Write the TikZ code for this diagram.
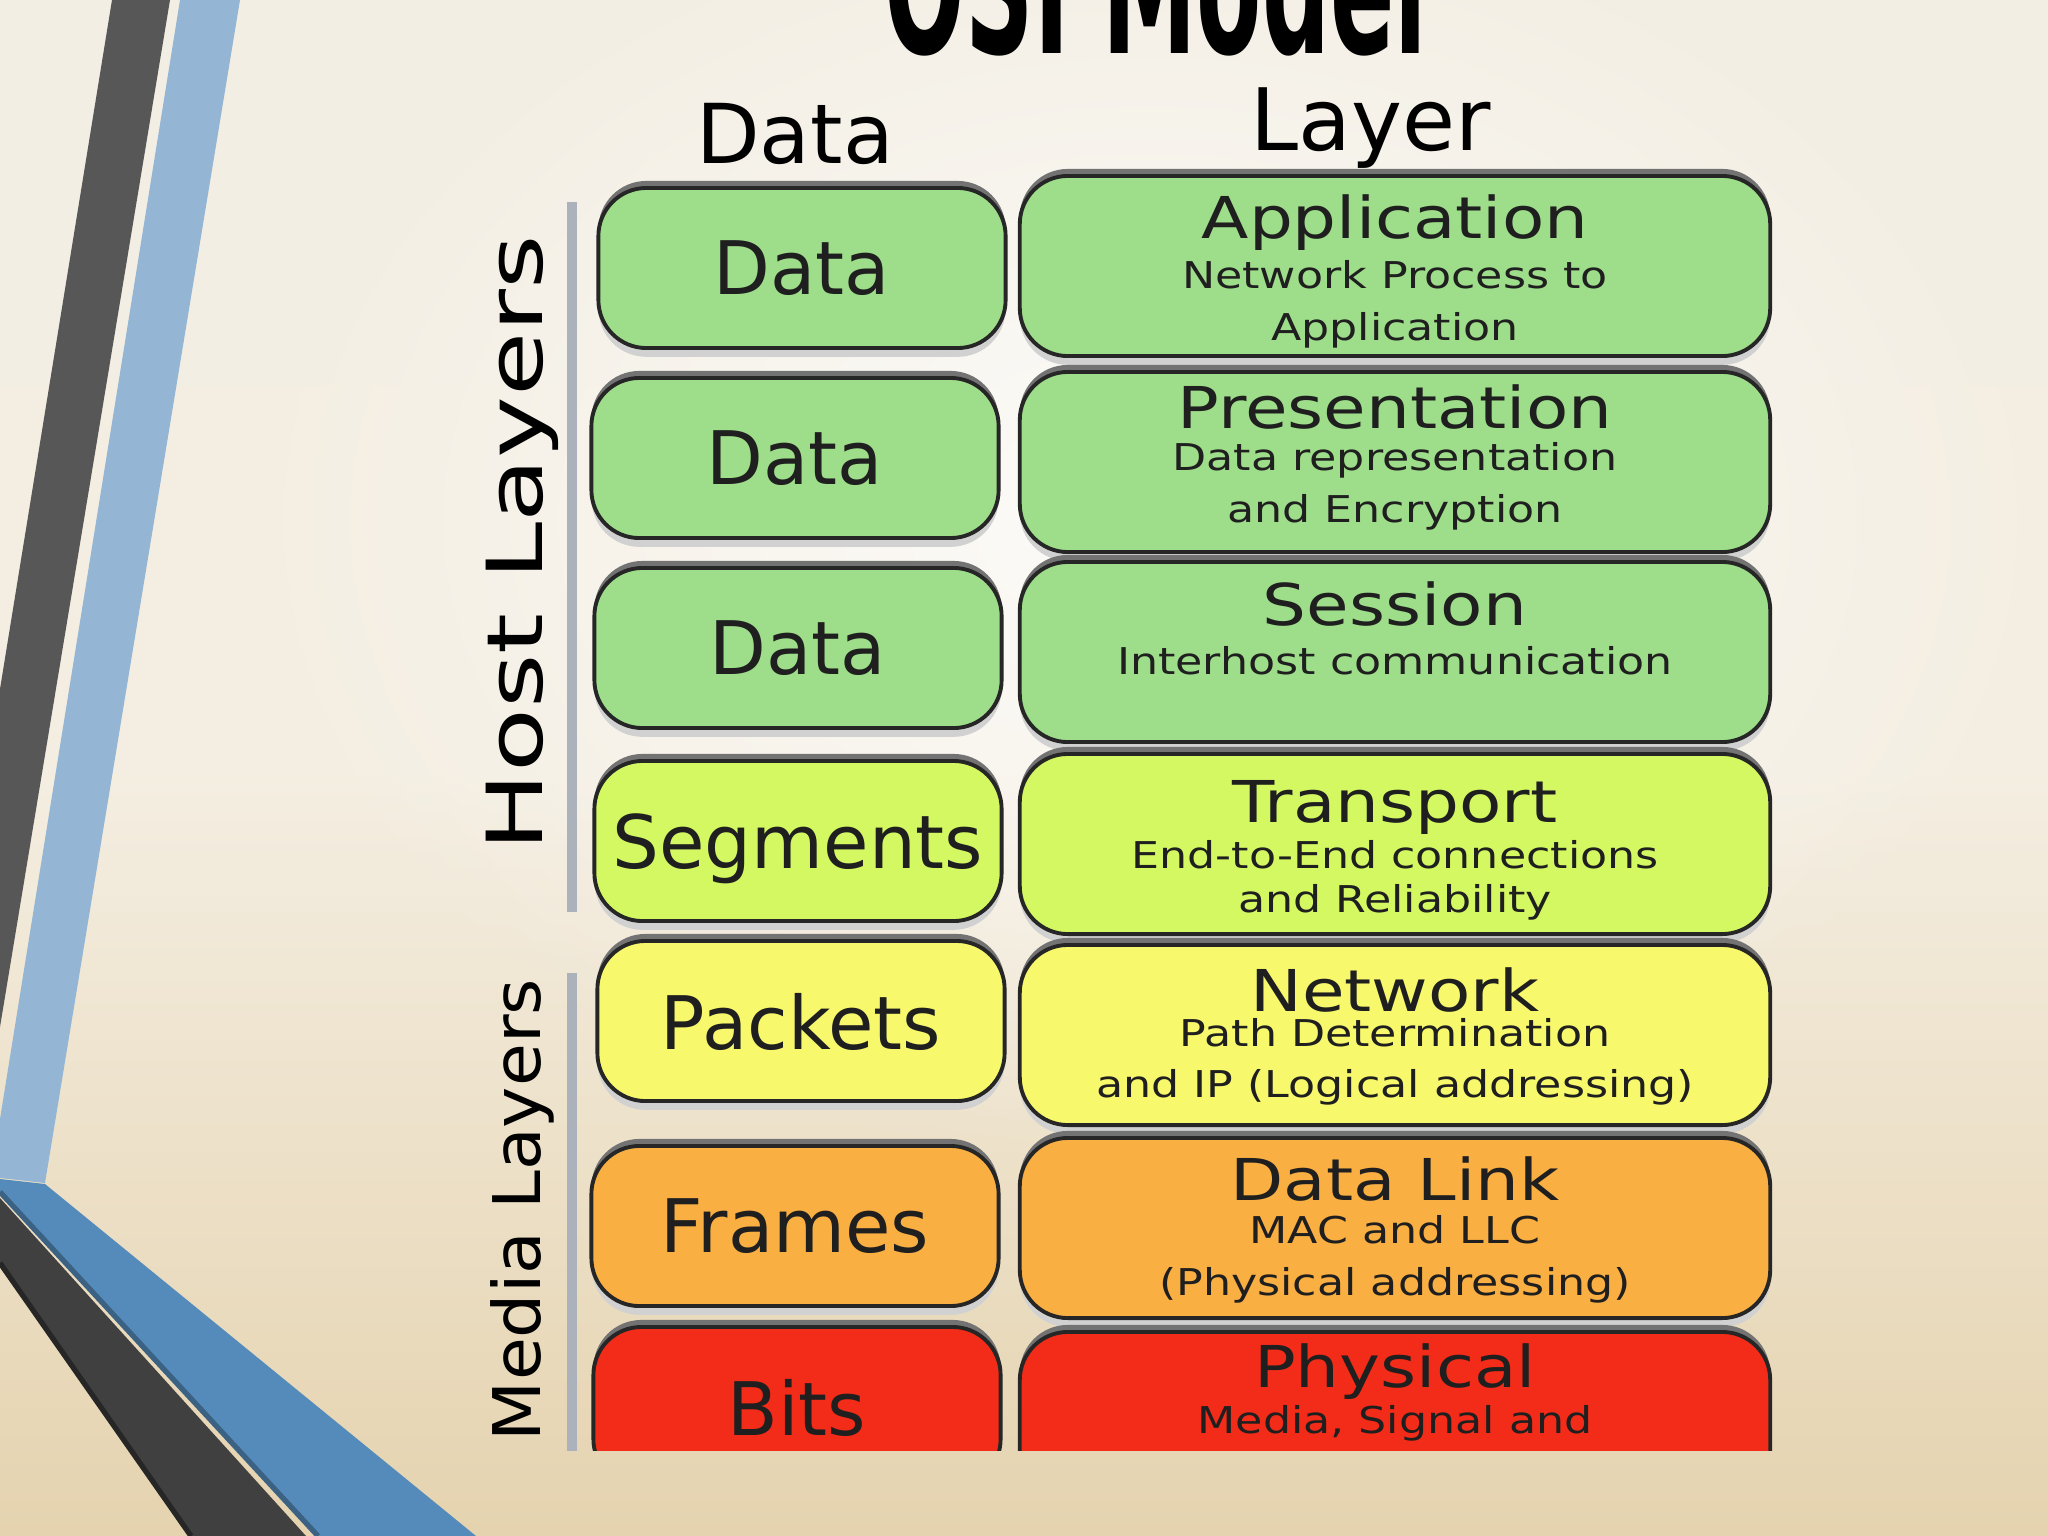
\documentclass[tikz,border=0pt]{standalone}
\usepackage{graphicx}
\usepackage{fontspec}
\setmainfont{DejaVu Sans}
\usetikzlibrary{fadings}

\definecolor{osigreen}{RGB}{158,221,138}
\definecolor{osilime}{RGB}{211,248,98}
\definecolor{osiyellow}{RGB}{248,248,108}
\definecolor{osiorange}{RGB}{250,175,66}
\definecolor{osired}{RGB}{242,44,24}
\definecolor{bgtop}{RGB}{243,238,227}
\definecolor{bgmid}{RGB}{244,238,226}
\definecolor{bgbot}{RGB}{229,211,175}
\definecolor{bandgray}{RGB}{87,87,87}
\definecolor{banddark}{RGB}{64,64,64}
\definecolor{bandlight}{RGB}{148,182,212}
\definecolor{bandblue}{RGB}{84,139,187}
\definecolor{rulegray}{RGB}{172,178,188}

\tikzfading[name=glow, inner color=transparent!20, outer color=transparent!100]

\newcommand{\wide}[1]{\scalebox{1.2}[1]{#1}}

\begin{document}
\begin{tikzpicture}[x=0.01cm, y=-0.01cm,
    box/.style={draw=black!85, line width=1.1pt, rounded corners=0.48cm, inner sep=0pt, text=black!88,
      preaction={fill=black!55, transform canvas={yshift=2pt}},
      preaction={fill=black!18, transform canvas={yshift=-2.5pt}}},
    datbox/.style={box, minimum width=4.07cm, minimum height=1.6cm, text depth=0pt,
      font=\fontsize{21}{24}\selectfont},
    laybox/.style={box, minimum width=7.5cm, minimum height=1.8cm},
    laytitle/.style={anchor=base, inner sep=0pt, text=black!88, font=\fontsize{16.4}{18}\selectfont},
    laysub/.style={anchor=base, inner sep=0pt, text=black!88, font=\fontsize{10.5}{12}\selectfont},
    header/.style={anchor=base, inner sep=0pt},
    sepline/.style={rulegray, line width=3pt}]
    \useasboundingbox (0,0) rectangle (2048,1536);
    \clip (0,0) rectangle (2048,1536);

    % slide background
    \shade[top color=bgtop, bottom color=bgbot, middle color=bgmid] (0,0) rectangle (2048,1536);
    \fill[white, path fading=glow] (1150,520) ellipse [x radius=9cm, y radius=6.5cm];

    % bands on the left
    \fill[bandgray] (112,0) -- (170,0) -- (0,1027) -- (0,689) -- cycle;
    \fill[bandlight] (180,0) -- (240,0) -- (45,1183) -- (0,1178) -- (0,1119) -- cycle;
    \fill[bandblue] (0,1179) -- (45,1184) -- (476,1536) -- (318,1536) -- (0,1192) -- cycle;
    \draw[bandblue!70!black, line width=1.5pt] (0,1192) -- (318,1536);
    \fill[banddark] (0,1198) -- (306,1536) -- (191,1536) -- (0,1263) -- cycle;
    \draw[black!85, line width=1.5pt] (0,1263) -- (191,1536);

    % headings
    \node[header, font=\fontsize{27}{30}\selectfont\bfseries] (title) at (1156,53) {\scalebox{1}[2]{OSI Model}};
    \node[header, font=\fontsize{23.5}{26}\selectfont] (datahead) at (795,163) {Data};
    \node[header, font=\fontsize{24.5}{27}\selectfont] (layerhead) at (1371,150) {Layer};
    \node[header, rotate=90, font=\fontsize{22}{24}\selectfont] (host) at (542,543) {\scalebox{1.35}[1]{Host Layers}};
    \node[header, rotate=90, font=\fontsize{18.7}{21}\selectfont] (media) at (540,1210) {\scalebox{1.06}[1]{Media Layers}};

    \begin{scope}
        \clip (0,0) rectangle (2048,1450);
        \draw[sepline] (572,202) -- (572,912);
        \draw[sepline] (572,973) -- (572,1460);

        % data units
        \foreach \n/\cx/\cy/\col/\txt in {d1/802/268/osigreen/Data, d2/795/458/osigreen/Data,
                d3/798/648/osigreen/Data, d4/798/841/osilime/Segments, d5/801/1021/osiyellow/Packets,
                d6/795/1226/osiorange/Frames, d7/797/1407/osired/Bits}
            \node[datbox, fill=\col] (\n) at (\cx,\cy) {\txt};

        % layers
        \foreach \n/\cy/\col in {app/266/osigreen, pre/462/osigreen, ses/652/osigreen, tra/844/osilime,
                net/1035/osiyellow, dll/1228/osiorange, phy/1422/osired}
            \node[laybox, fill=\col] (\n) at (1395,\cy) {};

        \foreach \n/\by/\txt in {app/238/Application, pre/428/Presentation, ses/625/Session,
                tra/822/Transport, net/1011/Network, dll/1200/Data Link, phy/1387/Physical}
            \node[laytitle] (\n-title) at (1395,\by) {\wide{\txt}};

        \foreach \n/\by/\txt in {app1/288/Network Process to, app2/340/Application,
                pre1/470/Data representation, pre2/522/and Encryption, ses1/674/Interhost communication,
                tra1/868/End-to-End connections, tra2/912/and Reliability, net1/1046/Path Determination,
                net2/1097/{and IP (Logical addressing)}, dll1/1243/MAC and LLC,
                dll2/1295/{(Physical addressing)}, phy1/1433/{Media, Signal and}}
            \node[laysub] (\n) at (1395,\by) {\wide{\txt}};
    \end{scope}
\end{tikzpicture}
\end{document}
